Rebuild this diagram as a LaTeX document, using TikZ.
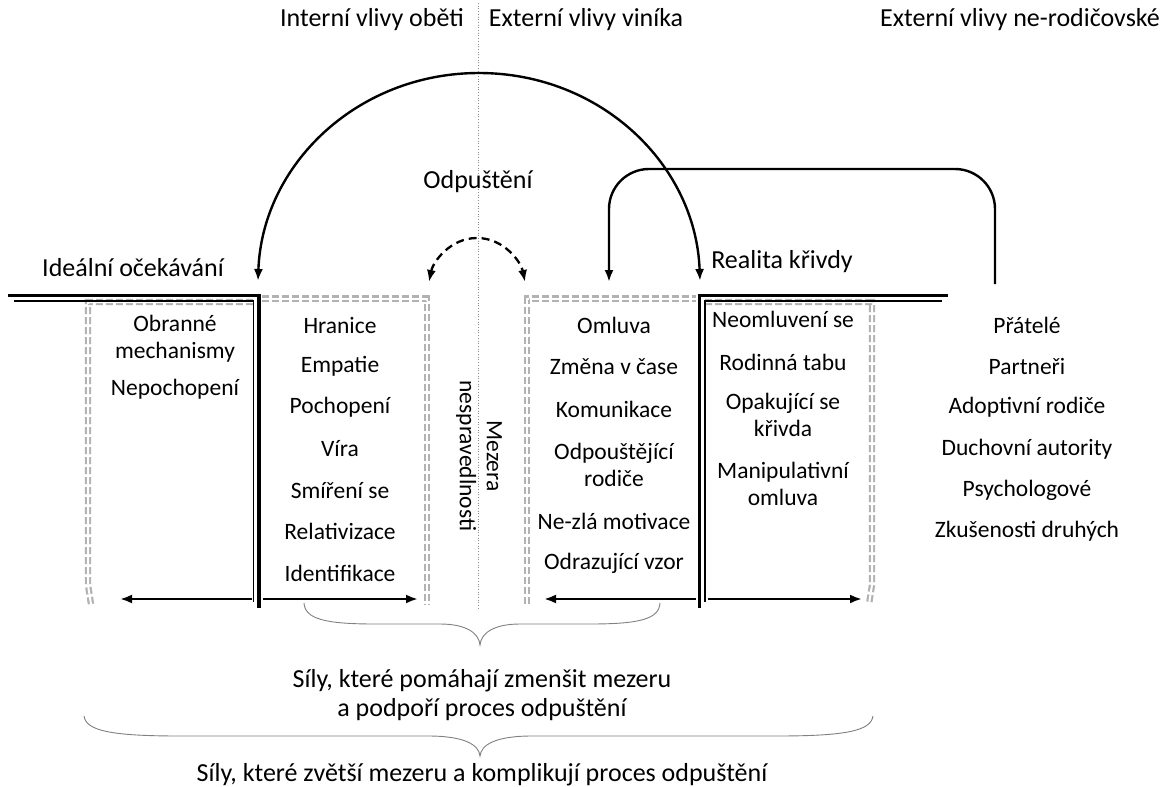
\documentclass[tikz,border=0pt]{standalone}
\usepackage{fontspec}
\setmainfont{Carlito}
\usetikzlibrary{arrows.meta}

\begin{document}
\begin{tikzpicture}[x=1pt,y=-1pt,
  >={Latex[length=12pt,width=9pt]},
  every node/.style={font=\fontsize{23.5}{27}\selectfont, inner sep=0pt, align=center},
  big/.style={font=\fontsize{26}{30}\selectfont},
  outerline/.style={line width=3.5pt, line join=miter, line cap=butt},
  innerline/.style={line width=1.6pt, line join=miter, line cap=butt},
  ghost/.style={draw=black!30, line width=2.2pt, double=white, double distance=2pt, dash pattern=on 7pt off 3pt},
  push/.style={line width=2.8pt, ->},
  infl/.style={line width=2.4pt},
  brace/.style={draw=black!50, line width=0.9pt},
  axis/.style={draw=black!45, line width=0.7pt, dotted}
]
\useasboundingbox (0,0) rectangle (1168,787);

% central axis between victim and offender
\draw[axis] (478,3) -- (478,608);

% headings
\node[big] (hInt) at (372,20) {Interní vlivy oběti};
\node[big] (hExt) at (586,20) {Externí vlivy viníka};
\node[big] (hOut) at (1020,20) {Externí vlivy ne-rodičovské};
\node[big] (forg) at (478,182) {Odpuštění};
\node[big] (ideal) at (133,268) {Ideální očekávání};
\node[big] (real) at (782,262) {Realita křivdy};

% ghost positions (grey compound dashed)
\draw[ghost] (91,604) -- (88,585) -- (88,302) -- (254,302);
\draw[ghost] (262,298.5) -- (427,298.5) -- (427,604);
\draw[ghost] (527,604) -- (527,298.5) -- (696,298.5);
\draw[ghost] (705,302) -- (872,302) -- (872,585) -- (869,604);

% expectation wall (thick-thin line)
\draw[outerline] (8,295.5) -- (259,295.5) -- (259,608);
\draw[innerline] (14,301) -- (253.5,301) -- (253.5,602);
% reality wall
\draw[outerline] (699.5,608) -- (699.5,295.5) -- (948,295.5);
\draw[innerline] (705,602) -- (705,301) -- (942,301);

% arrow anchors
\coordinate (idealTip) at (258,281);
\coordinate (realTip) at (700,281);
\coordinate (gapL) at (429,282);
\coordinate (gapR) at (525,282);
\coordinate (extFoot) at (995,284);
\coordinate (extTip) at (609,282);

% forgiveness arc between expectation and reality
\draw[infl, <->] (idealTip) .. controls (262,165) and (357,73) .. (479,73)
  .. controls (601,73) and (696,165) .. (realTip);
% gap arc
\draw[line width=2.3pt, dash pattern=on 8pt off 5pt, <->] (gapL)
  .. controls (433,262) and (450,238) .. (477,238)
  .. controls (504,238) and (521,262) .. (gapR);
% outside influences
\draw[infl, ->, rounded corners=40pt] (extFoot) |- (609,169) -- (extTip);

% gap label
\node[rotate=-90] (gap) at (479,456) {Mezera\\nespravedlnosti};

% column 1
\node (c1a) at (175,338.5) {Obranné\\mechanismy};
\node (c1b) at (175,389) {Nepochopení};
% column 2
\node (c2a) at (340,325) {Hranice};
\node (c2b) at (340,366.3) {Empatie};
\node (c2c) at (340,407.7) {Pochopení};
\node (c2d) at (340,449) {Víra};
\node (c2e) at (340,490.3) {Smíření se};
\node (c2f) at (340,531.7) {Relativizace};
\node (c2g) at (340,573) {Identifikace};
% column 3
\node (c3a) at (614,325) {Omluva};
\node (c3b) at (614,367) {Změna v čase};
\node (c3c) at (614,409) {Komunikace};
\node (c3d) at (614,465) {Odpouštějící\\rodiče};
\node (c3e) at (614,521) {Ne-zlá motivace};
\node (c3f) at (614,563) {Odrazující vzor};
% column 4
\node (c4a) at (783,319) {Neomluvení se};
\node (c4b) at (783,362) {Rodinná tabu};
\node (c4c) at (783,415) {Opakující se\\křivda};
\node (c4d) at (783,484) {Manipulativní\\omluva};
% column 5
\node (c5a) at (1027,325) {Přátelé};
\node (c5b) at (1027,366.3) {Partneři};
\node (c5c) at (1027,407.7) {Adoptivní rodiče};
\node (c5d) at (1027,449) {Duchovní autority};
\node (c5e) at (1027,490.3) {Psychologové};
\node (c5f) at (1027,531.7) {Zkušenosti druhých};

% pushes on the walls
\coordinate (p1s) at (252,599); \coordinate (p1e) at (120,599);
\coordinate (p2s) at (263,599); \coordinate (p2e) at (418,599);
\coordinate (p3s) at (696,599); \coordinate (p3e) at (544,599);
\coordinate (p4s) at (708,599); \coordinate (p4e) at (862,599);
\draw[push] (p1s) -- (p1e);
\draw[push] (p2s) -- (p2e);
\draw[push] (p3s) -- (p3e);
\draw[push] (p4s) -- (p4e);

% inner brace
\draw[brace] (304,603) .. controls (305,619) and (325,624) .. (375,624) -- (440,624)
  .. controls (466,624) and (479,633) .. (480,645)
  .. controls (481,633) and (494,624) .. (520,624) -- (590,624)
  .. controls (640,624) and (659,619) .. (660,603);
\node[big] (sInnerA) at (482,681) {Síly, které pomáhají zmenšit mezeru};
\node[big] (sInnerB) at (482,710) {a podpoří proces odpuštění};

% outer brace
\draw[brace] (84,716) .. controls (86,731) and (112,736) .. (180,736) -- (428,736)
  .. controls (465,736) and (479,745) .. (480,756)
  .. controls (481,745) and (495,736) .. (532,736) -- (777,736)
  .. controls (845,736) and (871,731) .. (873,716);
\node[big] (sOuter) at (482,775) {Síly, které zvětší mezeru a komplikují proces odpuštění};
\end{tikzpicture}
\end{document}
